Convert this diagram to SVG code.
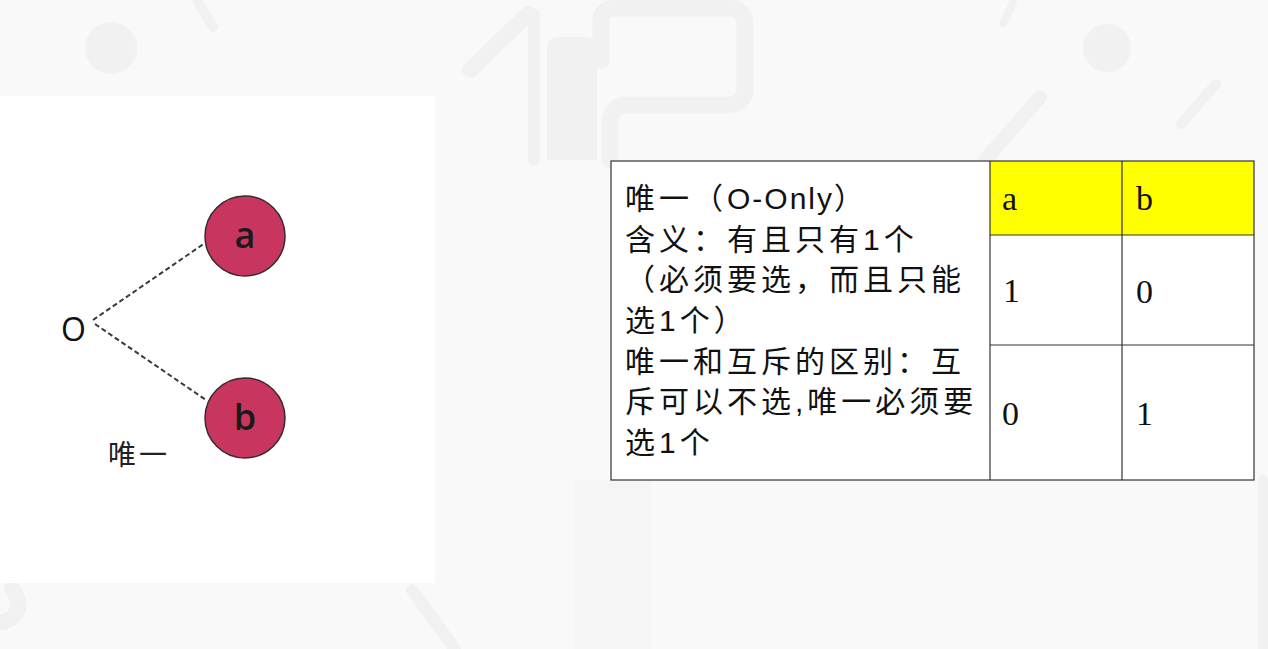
<svg xmlns="http://www.w3.org/2000/svg" width="1268" height="649" viewBox="0 0 1268 649">
  <style>
    .wm { fill: none; stroke: #f1f1f1; stroke-linecap: round; stroke-linejoin: round; }
    .wmf { fill: #f1f1f1; }
    .circ { fill: #c8365f; stroke: #3a2a2a; stroke-width: 1.5; }
    .clabel { font-family: "Open Sans", "DejaVu Sans", sans-serif; font-size: 36px; font-weight: 600; fill: #1a1a1a; text-anchor: middle; }
    .olabel { font-family: "Open Sans", "DejaVu Sans", sans-serif; font-size: 32px; fill: #111; }
    .cjk { font-family: "Liberation Sans", "Noto Sans CJK SC", sans-serif; font-size: 30px; letter-spacing: 4px; fill: #111; }
    .lat { letter-spacing: 2px; }
    .cjk2 { font-family: "Liberation Serif", "Noto Sans CJK SC", serif; font-size: 28px; letter-spacing: 3px; fill: #222; }
    .cell { font-family: "Liberation Serif", serif; font-size: 34px; fill: #111; }
    .grid { stroke: #333; stroke-width: 1.2; fill: none; }
    .dash { stroke: #3a3a3a; stroke-width: 2; stroke-dasharray: 5 3; fill: none; }
  </style>

  <!-- background -->
  <rect x="0" y="0" width="1268" height="649" fill="#f9f9f9"/>
  <g id="watermark">
    <circle class="wmf" cx="111" cy="48" r="26"/>
    <line class="wm" x1="198" y1="2" x2="213" y2="27" stroke-width="10"/>
    <line class="wm" x1="470" y1="70" x2="528" y2="14" stroke-width="16"/>
    <line class="wm" x1="534" y1="14" x2="534" y2="160" stroke-width="12"/>
    <path class="wmf" d="M 547 160 L 547 50 Q 547 37 560 37 L 584 37 Q 597 37 597 50 L 597 160 Z"/>
    <path class="wm" d="M 601 60 L 601 22 Q 601 8 616 8 L 728 8 Q 745 8 745 26 L 745 88 Q 745 105 726 105 L 628 105 Q 610 105 610 125 L 610 160" stroke-width="17"/>
    <rect x="575" y="480" width="76" height="169" fill="#f5f5f5"/>
    <circle class="wmf" cx="1107" cy="48" r="24"/>
    <line class="wm" x1="1216" y1="84" x2="1181" y2="124" stroke-width="10"/>
    <line class="wm" x1="1003" y1="24" x2="1013" y2="3" stroke-width="8"/>
    <line class="wm" x1="985" y1="160" x2="1040" y2="97" stroke-width="14"/>
    <path class="wm" d="M 12 588 Q 28 612 4 622" stroke-width="16"/>
    <line class="wm" x1="412" y1="590" x2="455" y2="649" stroke-width="12"/>
    <line class="wm" x1="1263" y1="480" x2="1263" y2="649" stroke-width="10"/>
  </g>

  <!-- left white panel -->
  <rect x="0" y="96" width="435" height="487" fill="#ffffff"/>

  <!-- connectors -->
  <g id="connectors">
    <line class="dash" x1="93" y1="320" x2="205" y2="243"/>
    <line class="dash" x1="95" y1="324" x2="206" y2="400"/>
  </g>

  <g id="node-O">
    <text class="olabel" x="61" y="341">O</text>
  </g>
  <g id="node-a">
    <circle class="circ" cx="245" cy="236" r="40"/>
    <text class="clabel" x="245" y="248">a</text>
  </g>
  <g id="node-b">
    <circle class="circ" cx="245" cy="418" r="40"/>
    <text class="clabel" x="245" y="430">b</text>
  </g>
  <g id="label-only">
    <text class="cjk2" x="108" y="465">唯一</text>
  </g>

  <!-- table -->
  <g id="table">
    <rect x="611" y="161" width="643" height="319" fill="#ffffff"/>
    <rect x="990" y="161" width="264" height="74" fill="#ffff00"/>
    <rect class="grid" x="611" y="161" width="643" height="319"/>
    <line class="grid" x1="990" y1="161" x2="990" y2="480"/>
    <line class="grid" x1="1122" y1="161" x2="1122" y2="480"/>
    <line class="grid" x1="990" y1="235" x2="1254" y2="235"/>
    <line class="grid" x1="990" y1="345" x2="1254" y2="345"/>

    <g id="cell-desc">
      <text class="cjk" x="625" y="209">唯一（<tspan class="lat">O-Only</tspan>）</text>
      <text class="cjk" x="625" y="250">含义：有且只有1个</text>
      <text class="cjk" x="625" y="290">（必须要选，而且只能</text>
      <text class="cjk" x="625" y="331">选1个）</text>
      <text class="cjk" x="625" y="372">唯一和互斥的区别：互</text>
      <text class="cjk" x="625" y="412">斥可以不选,唯一必须要</text>
      <text class="cjk" x="625" y="453">选1个</text>
    </g>
    <g id="cells">
      <text class="cell" x="1002" y="210">a</text>
      <text class="cell" x="1136" y="210">b</text>
      <text class="cell" x="1003" y="302">1</text>
      <text class="cell" x="1136" y="303">0</text>
      <text class="cell" x="1002" y="425">0</text>
      <text class="cell" x="1136" y="425">1</text>
    </g>
  </g>
</svg>
